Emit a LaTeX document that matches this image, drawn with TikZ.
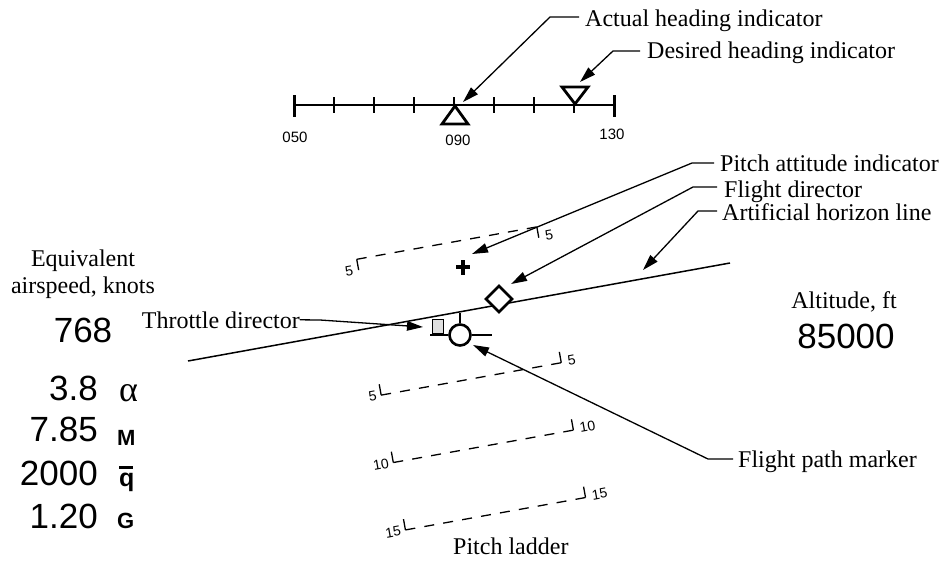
\documentclass[tikz,border=0pt]{standalone}
\usepackage{fontspec}
\setmainfont{Liberation Serif}
\setsansfont{Liberation Sans}
\usetikzlibrary{arrows.meta}
\begin{document}
\begin{tikzpicture}[x=1pt,y=-1pt,
  lbl/.style={font=\fontsize{24}{28}\selectfont, inner sep=0pt},
  num/.style={font=\sffamily\fontsize{35}{40}\selectfont, inner sep=0pt},
  hdg/.style={font=\sffamily\fontsize{15}{18}\selectfont, inner sep=0pt},
  lad/.style={font=\sffamily\fontsize{14}{16}\selectfont, inner sep=0pt, transform shape},
  sym/.style={font=\sffamily\bfseries\fontsize{22}{24}\selectfont, inner sep=0pt},
  leader/.style={line width=1.3pt, -{Triangle[length=16pt,width=9.5pt]}},
  rung/.style={line width=1.3pt, dash pattern=on 10pt off 9.2pt},
  rtick/.style={line width=1.3pt},
  thick symbol/.style={line width=2.8pt, fill=white, line join=miter}]
\useasboundingbox (0,0) rectangle (947,562);

% ---------- heading scale ----------
\coordinate (hL) at (294,105);
\coordinate (hR) at (614,105);
\draw[line width=1.6pt] (hL) -- (hR);
\foreach \i in {1,...,7} \draw[line width=1.3pt] (294+40*\i,97) -- (294+40*\i,113);
\draw[line width=3pt] (294,95) -- (294,117);
\draw[line width=3pt] (614,95) -- (614,117);
\coordinate (actTri) at (455,106);
\coordinate (desTri) at (575,104);
\draw[thick symbol] (actTri) -- ++(13,18) -- ++(-26,0) -- cycle;
\draw[thick symbol] (desTri) -- ++(13,-17) -- ++(-26,0) -- cycle;
\node[hdg] (h050) at (295,137) {050};
\node[hdg] (h090) at (458,140) {090};
\node[hdg] (h130) at (612,134) {130};

% ---------- pitch ladder ----------
\begin{scope}[shift={(459,311)}, rotate=10.2]
  % +5
  \draw[rung] (-91.5,-69) -- (91.5,-69);
  \draw[rtick] (-91.5,-69) -- (-91.5,-58);
  \draw[rtick] (91.5,-69) -- (91.5,-58);
  \node[lad, anchor=east] (lp5l) at (-97,-59) {5};
  \node[lad, anchor=west] (lp5r) at (98,-59) {5};
  % -5, -10, -15
  \foreach \v/\t in {69/5, 137.5/10, 206/15} {
    \draw[rung] (-91.5,\v) -- (91.5,\v);
    \draw[rtick] (-91.5,\v) -- (-91.5,\v-11);
    \draw[rtick] (91.5,\v) -- (91.5,\v-11);
    \node[lad, anchor=east] at (-96,\v) {\t};
    \node[lad, anchor=west] at (98,\v-1) {\t};
  }
\end{scope}
\node[lbl, anchor=base west] (tLad) at (453,554) {Pitch ladder};

% ---------- horizon line and symbols ----------
\coordinate (hz1) at (188,361);
\coordinate (hz2) at (730,263);
\draw[line width=1.5pt] (hz1) -- (hz2);

\coordinate (fd) at (499,299);
\draw[thick symbol] (fd) ++(0,-13) -- ++(13,13) -- ++(-13,13) -- ++(-13,-13) -- cycle;

\coordinate (pa) at (463,267);
\draw[line width=3.2pt] ([xshift=-7pt]pa) -- ([xshift=7pt]pa);
\draw[line width=3.2pt] ([yshift=-7.5pt]pa) -- ([yshift=7.5pt]pa);

\node[circle, draw, line width=2.6pt, fill=white, minimum size=21pt, inner sep=0pt] (fpm) at (460,335) {};
\draw[line width=1.5pt] (fpm.north) -- ++(0,-10);
\draw[line width=1.5pt] (fpm.east) -- ++(20,0);
\coordinate (wingL) at (430,335);
\draw[line width=1.5pt] (fpm.west) -- (wingL);
\node[draw, fill=gray!25, line width=0.8pt, minimum width=11pt, minimum height=14pt, inner sep=0pt, anchor=south] (thr) at (437.5,334) {};

% ---------- callout texts ----------
\node[lbl, anchor=base west] (tAct) at (585,27) {Actual heading indicator};
\node[lbl, anchor=base west] (tDes) at (647,58) {Desired heading indicator};
\node[lbl, anchor=base west] (tPit) at (720,171) {Pitch attitude indicator};
\node[lbl, anchor=base west] (tFd) at (724,197) {Flight director};
\node[lbl, anchor=base west] (tHor) at (722,220) {Artificial horizon line};
\node[lbl, anchor=base west] (tFpm) at (738,467) {Flight path marker};
\node[lbl, anchor=base east] (tThr) at (300,328) {Throttle director};

% ---------- leaders ----------
\coordinate (eAct) at (579,17);  \coordinate (cAct) at (550,17);  \coordinate (pAct) at (463,102);
\draw[leader] (eAct) -- (cAct) -- (pAct);
\coordinate (eDes) at (640,51);  \coordinate (cDes) at (613,51);  \coordinate (pDes) at (580,82);
\draw[leader] (eDes) -- (cDes) -- (pDes);
\coordinate (ePit) at (714,163); \coordinate (cPit) at (692,163); \coordinate (pPit) at (472,254);
\draw[leader] (ePit) -- (cPit) -- (pPit);
\coordinate (eFd) at (717,187);  \coordinate (cFd) at (693,187);  \coordinate (pFd) at (511,284);
\draw[leader] (eFd) -- (cFd) -- (pFd);
\coordinate (eHor) at (717,211); \coordinate (cHor) at (698,211); \coordinate (pHor) at (643,270);
\draw[leader] (eHor) -- (cHor) -- (pHor);
\coordinate (eFpm) at (733,459); \coordinate (cFpm) at (708,459); \coordinate (pFpm) at (473,345);
\draw[leader] (eFpm) -- (cFpm) -- (pFpm);
\coordinate (cThr) at (320,320); \coordinate (pThr) at (423,327);
\draw[leader] (tThr.east) -- (cThr) -- (pThr);

% ---------- left data block ----------
\node[lbl, anchor=base] (eq1) at (83,266) {Equivalent};
\node[lbl, anchor=base] (eq2) at (83,293.5) {airspeed, knots};
\node[num, anchor=base] (eas) at (83,342) {768};
\node[num, anchor=base east] (alpha) at (98,400) {3.8};
\node[num, anchor=base east] (mach) at (98,441.7) {7.85};
\node[num, anchor=base east] (qbar) at (98,485) {2000};
\node[num, anchor=base east] (gload) at (98,528.3) {1.20};
\node[font=\fontsize{36}{40}\selectfont, inner sep=0pt, anchor=base west] (sA) at (119,401.5) {α};
\node[sym, anchor=base west] (sM) at (117,445.7) {M};
\node[sym, anchor=base west, font=\sffamily\bfseries\fontsize{25}{26}\selectfont] (sQ) at (119,486) {\rlap{\rule[0.7em]{0.55em}{0.09em}}q};
\node[sym, anchor=base west] (sG) at (117,528.3) {G};

% ---------- altitude ----------
\node[lbl, anchor=base] (alt1) at (844,308) {Altitude, ft};
\node[num, anchor=base] (alt2) at (846,348.3) {85000};
\end{tikzpicture}
\end{document}
